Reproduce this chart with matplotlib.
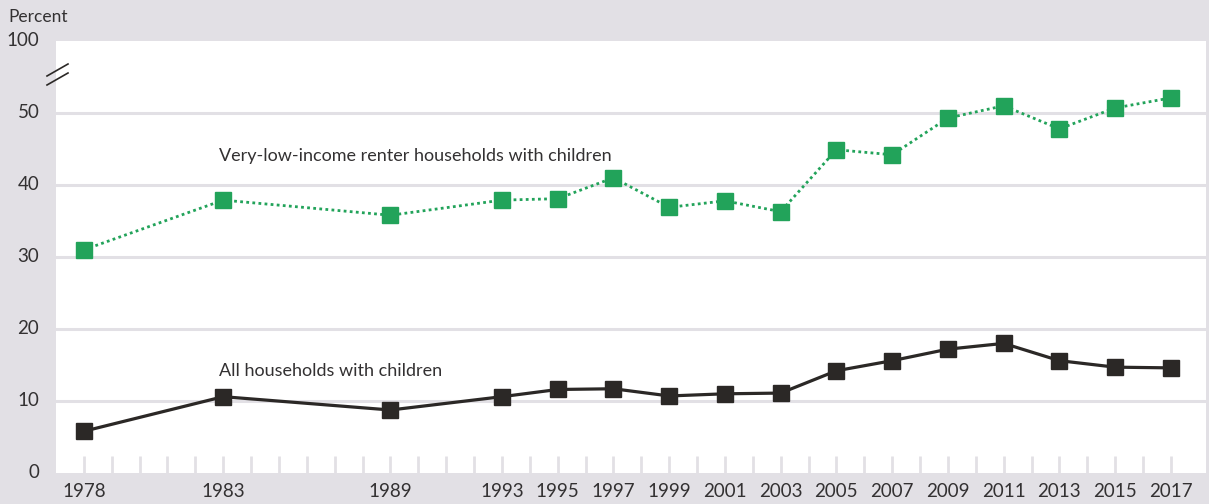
import matplotlib
matplotlib.use("Agg")
import matplotlib.pyplot as plt
from matplotlib.lines import Line2D

years = [1978, 1983, 1989, 1993, 1995, 1997, 1999, 2001, 2003, 2005, 2007, 2009, 2011, 2013, 2015, 2017]
very_low_income = [31.0, 37.9, 35.8, 37.9, 38.1, 41.0, 36.9, 37.8, 36.3, 44.9, 44.2, 49.3, 51.0, 47.8, 50.7, 52.1]
all_households = [5.8, 10.6, 8.75, 10.6, 11.6, 11.7, 10.7, 11.0, 11.1, 14.2, 15.6, 17.2, 18.0, 15.6, 14.7, 14.6]
ytick_vals = [0, 10, 20, 30, 40, 50, 60]
ytick_labels = ["0", "10", "20", "30", "40", "50", "100"]
xtick_labels = [1978, 1983, 1989, 1993, 1995, 1997, 1999, 2001, 2003, 2005, 2007, 2009, 2011, 2013, 2015, 2017]

BG = "#e2e0e5"
GREEN = "#22a35a"
BLACK = "#2b2826"
TXT = "#333132"

plt.rcParams['font.family'] = ['Lato', 'DejaVu Sans']

W, H = 1209, 504
fig = plt.figure(figsize=(W/100, H/100), dpi=100, facecolor=BG)
ax = fig.add_axes([56/W, 1 - 473/H, (1206-56)/W, (473-41)/H])
ax.set_facecolor("white")
ax.set_xlim(1977.0, 2018.26)
ax.set_ylim(0, 60)

for s in ax.spines.values():
    s.set_visible(False)

for v in [10, 20, 30, 40, 50]:
    ax.axhline(v, color=BG, lw=2.2, zorder=1)

# yearly ticks at bottom inside plot
for yr in range(1978, 2018):
    ax.plot([yr, yr], [0, 2.3], color=BG, lw=2, zorder=1, solid_capstyle='butt')

ax.plot(years, very_low_income, color=GREEN, lw=2, ls=(0, (1, 1.2)), marker='s',
        markersize=11.5, markerfacecolor=GREEN, markeredgecolor=GREEN, zorder=3)
ax.plot(years, all_households, color=BLACK, lw=2.3, marker='s',
        markersize=11.5, markerfacecolor=BLACK, markeredgecolor=BLACK, zorder=3)

ax.set_yticks(ytick_vals)
ax.set_yticklabels(ytick_labels)
ax.set_xticks(xtick_labels)
ax.set_xticklabels([str(x) for x in xtick_labels])
ax.tick_params(axis='both', length=0, labelsize=13.5, colors=TXT)
ax.tick_params(axis='y', pad=12)
ax.tick_params(axis='x', pad=7)
for lab in ax.get_yticklabels():
    lab.set_verticalalignment('center')

ax.text(1982.84, 43.3, "Very-low-income renter households with children", fontsize=13,
        color=TXT, va='baseline', ha='left')
ax.text(1982.84, 13.5, "All households with children", fontsize=13,
        color=TXT, va='baseline', ha='left')

fig.text(8/W, 1 - 17/H, "Percent", fontsize=12.5, color=TXT, va='center', ha='left')

# axis break marks
for dy in (0, 9):
    fig.add_artist(Line2D([47/W, 68/W], [1 - (76+dy)/H, 1 - (64+dy)/H],
                          color=BLACK, lw=1.2, transform=fig.transFigure))

fig.savefig("out.png", dpi=100, facecolor=BG)
